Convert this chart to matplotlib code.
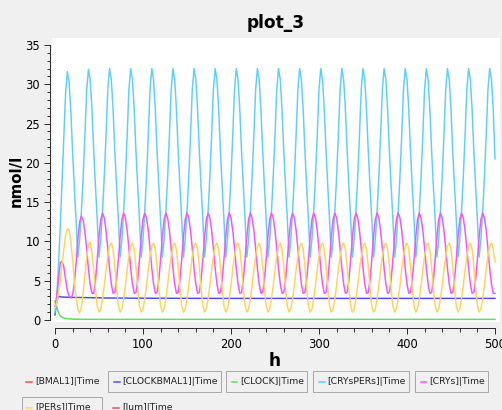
import numpy as np
import matplotlib
matplotlib.use("Agg")
import matplotlib.pyplot as plt
from matplotlib.patches import Rectangle
from matplotlib.lines import Line2D
from matplotlib.ticker import MultipleLocator

# ---------------- data ----------------
series_names = ["[BMAL1]|Time", "[CLOCKBMAL1]|Time", "[CLOCK]|Time",
                "[CRYsPERs]|Time", "[CRYs]|Time", "[PERs]|Time", "[lum]|Time"]

# common 2 h grid for the oscillating species
time_h = np.arange(0, 501, 2)

cryspers = [
    1.0, 3.0, 7.0, 12.0, 17.5, 23.0, 28.8, 31.6, 30.3, 26.6, 21.3, 16.8,
    12.6, 8.0, 10.3, 13.8, 18.2, 23.5, 29.2, 31.9, 30.5, 26.8, 21.5, 17.0,
    12.8, 8.0, 10.3, 13.8, 18.2, 23.5, 29.3, 32.0, 30.6, 26.8, 21.5, 17.0,
    12.8, 8.0, 10.3, 13.8, 18.2, 23.5, 29.3, 32.0, 30.6, 26.8, 21.5, 17.0,
    12.8, 8.0, 10.3, 13.8, 18.2, 23.5, 29.3, 32.0, 30.6, 26.8, 21.5, 17.0,
    12.8, 8.0, 10.3, 13.8, 18.2, 23.5, 29.3, 32.0, 30.6, 26.8, 21.5, 17.0,
    12.8, 8.0, 10.3, 13.8, 18.2, 23.5, 29.3, 32.0, 30.6, 26.8, 21.5, 17.0,
    12.8, 8.0, 10.3, 13.8, 18.2, 23.5, 29.3, 32.0, 30.6, 26.8, 21.5, 17.0,
    12.8, 8.0, 10.3, 13.8, 18.2, 23.5, 29.3, 32.0, 30.6, 26.8, 21.5, 17.0,
    12.8, 8.0, 10.3, 13.8, 18.2, 23.5, 29.3, 32.0, 30.6, 26.8, 21.5, 17.0,
    12.8, 8.0, 10.3, 13.8, 18.2, 23.5, 29.3, 32.0, 30.6, 26.8, 21.5, 17.0,
    12.8, 8.0, 10.3, 13.8, 18.2, 23.5, 29.3, 32.0, 30.6, 26.8, 21.5, 17.0,
    12.8, 8.0, 10.3, 13.8, 18.2, 23.5, 29.3, 32.0, 30.6, 26.8, 21.5, 17.0,
    12.8, 8.0, 10.3, 13.8, 18.2, 23.5, 29.3, 32.0, 30.6, 26.8, 21.5, 17.0,
    12.8, 8.0, 10.3, 13.8, 18.2, 23.5, 29.3, 32.0, 30.6, 26.8, 21.5, 17.0,
    12.8, 8.0, 10.3, 13.8, 18.2, 23.5, 29.3, 32.0, 30.6, 26.8, 21.5, 17.0,
    12.8, 8.0, 10.3, 13.8, 18.2, 23.5, 29.3, 32.0, 30.6, 26.8, 21.5, 17.0,
    12.8, 8.0, 10.3, 13.8, 18.2, 23.5, 29.3, 32.0, 30.6, 26.8, 21.5, 17.0,
    12.8, 8.0, 10.3, 13.8, 18.2, 23.5, 29.3, 32.0, 30.6, 26.8, 21.5, 17.0,
    12.8, 8.0, 10.3, 13.8, 18.2, 23.5, 29.3, 32.0, 30.6, 26.8, 21.5, 17.0,
    12.8, 8.0, 10.3, 13.8, 18.2, 23.5, 29.3, 32.0, 30.6, 26.8, 20.5,
]

crys = [
    1.7, 3.0, 5.2, 7.3, 7.5, 6.8, 5.2, 3.8, 3.0, 2.8, 3.2, 4.6,
    7.3, 10.3, 12.5, 13.2, 12.7, 11.2, 9.0, 6.5, 4.5, 3.4, 3.4, 5.0,
    7.7, 10.6, 12.8, 13.6, 13.0, 11.4, 9.1, 6.6, 4.6, 3.4, 3.5, 5.1,
    7.7, 10.6, 12.8, 13.6, 13.0, 11.4, 9.1, 6.6, 4.6, 3.4, 3.5, 5.1,
    7.7, 10.6, 12.8, 13.6, 13.0, 11.4, 9.1, 6.6, 4.6, 3.4, 3.5, 5.1,
    7.7, 10.6, 12.8, 13.6, 13.0, 11.4, 9.1, 6.6, 4.6, 3.4, 3.5, 5.1,
    7.7, 10.6, 12.8, 13.6, 13.0, 11.4, 9.1, 6.6, 4.6, 3.4, 3.5, 5.1,
    7.7, 10.6, 12.8, 13.6, 13.0, 11.4, 9.1, 6.6, 4.6, 3.4, 3.5, 5.1,
    7.7, 10.6, 12.8, 13.6, 13.0, 11.4, 9.1, 6.6, 4.6, 3.4, 3.5, 5.1,
    7.7, 10.6, 12.8, 13.6, 13.0, 11.4, 9.1, 6.6, 4.6, 3.4, 3.5, 5.1,
    7.7, 10.6, 12.8, 13.6, 13.0, 11.4, 9.1, 6.6, 4.6, 3.4, 3.5, 5.1,
    7.7, 10.6, 12.8, 13.6, 13.0, 11.4, 9.1, 6.6, 4.6, 3.4, 3.5, 5.1,
    7.7, 10.6, 12.8, 13.6, 13.0, 11.4, 9.1, 6.6, 4.6, 3.4, 3.5, 5.1,
    7.7, 10.6, 12.8, 13.6, 13.0, 11.4, 9.1, 6.6, 4.6, 3.4, 3.5, 5.1,
    7.7, 10.6, 12.8, 13.6, 13.0, 11.4, 9.1, 6.6, 4.6, 3.4, 3.5, 5.1,
    7.7, 10.6, 12.8, 13.6, 13.0, 11.4, 9.1, 6.6, 4.6, 3.4, 3.5, 5.1,
    7.7, 10.6, 12.8, 13.6, 13.0, 11.4, 9.1, 6.6, 4.6, 3.4, 3.5, 5.1,
    7.7, 10.6, 12.8, 13.6, 13.0, 11.4, 9.1, 6.6, 4.6, 3.4, 3.5, 5.1,
    7.7, 10.6, 12.8, 13.6, 13.0, 11.4, 9.1, 6.6, 4.6, 3.4, 3.5, 5.1,
    7.7, 10.6, 12.8, 13.6, 13.0, 11.4, 9.1, 6.6, 4.6, 3.4, 3.5, 5.1,
    7.7, 10.6, 12.8, 13.6, 13.0, 11.4, 9.1, 6.6, 4.6, 3.4, 3.4,
]

pers = [
    1.6, 2.2, 3.4, 5.0, 7.0, 9.0, 10.7, 11.6, 11.5, 10.0, 7.6, 5.0,
    2.8, 1.4, 0.9, 1.6, 3.4, 5.8, 8.0, 9.6, 9.9, 8.6, 6.4, 3.9,
    1.8, 1.0, 1.3, 2.7, 4.4, 6.4, 8.1, 9.4, 9.8, 9.0, 6.8, 4.0,
    1.8, 1.0, 1.4, 2.7, 4.4, 6.4, 8.1, 9.4, 9.8, 9.0, 6.8, 4.0,
    1.8, 1.0, 1.4, 2.7, 4.4, 6.4, 8.1, 9.4, 9.8, 9.0, 6.8, 4.0,
    1.8, 1.0, 1.4, 2.7, 4.4, 6.4, 8.1, 9.4, 9.8, 9.0, 6.8, 4.0,
    1.8, 1.0, 1.4, 2.7, 4.4, 6.4, 8.1, 9.4, 9.8, 9.0, 6.8, 4.0,
    1.8, 1.0, 1.4, 2.7, 4.4, 6.4, 8.1, 9.4, 9.8, 9.0, 6.8, 4.0,
    1.8, 1.0, 1.4, 2.7, 4.4, 6.4, 8.1, 9.4, 9.8, 9.0, 6.8, 4.0,
    1.8, 1.0, 1.4, 2.7, 4.4, 6.4, 8.1, 9.4, 9.8, 9.0, 6.8, 4.0,
    1.8, 1.0, 1.4, 2.7, 4.4, 6.4, 8.1, 9.4, 9.8, 9.0, 6.8, 4.0,
    1.8, 1.0, 1.4, 2.7, 4.4, 6.4, 8.1, 9.4, 9.8, 9.0, 6.8, 4.0,
    1.8, 1.0, 1.4, 2.7, 4.4, 6.4, 8.1, 9.4, 9.8, 9.0, 6.8, 4.0,
    1.8, 1.0, 1.4, 2.7, 4.4, 6.4, 8.1, 9.4, 9.8, 9.0, 6.8, 4.0,
    1.8, 1.0, 1.4, 2.7, 4.4, 6.4, 8.1, 9.4, 9.8, 9.0, 6.8, 4.0,
    1.8, 1.0, 1.4, 2.7, 4.4, 6.4, 8.1, 9.4, 9.8, 9.0, 6.8, 4.0,
    1.8, 1.0, 1.4, 2.7, 4.4, 6.4, 8.1, 9.4, 9.8, 9.0, 6.8, 4.0,
    1.8, 1.0, 1.4, 2.7, 4.4, 6.4, 8.1, 9.4, 9.8, 9.0, 6.8, 4.0,
    1.8, 1.0, 1.4, 2.7, 4.4, 6.4, 8.1, 9.4, 9.8, 9.0, 6.8, 4.0,
    1.8, 1.0, 1.4, 2.7, 4.4, 6.4, 8.1, 9.4, 9.8, 9.0, 6.8, 4.0,
    1.8, 1.0, 1.4, 2.7, 4.4, 6.4, 8.1, 9.4, 9.8, 9.0, 7.4,
]

# nearly constant species on their own sparse time grids
clockbmal1_t = [0, 1, 2, 3, 4, 5, 6, 8, 12, 20, 40, 60, 100, 200, 300, 400, 500]
clockbmal1 = [0.65, 1.5, 2.3, 2.8, 3.0, 3.0, 2.95, 2.92, 2.9, 2.88, 2.84, 2.8,
              2.77, 2.75, 2.75, 2.75, 2.75]

clock_t = [0, 1, 2, 3, 4, 5, 6, 8, 10, 12, 16, 20, 30, 60, 100, 500]
clock = [2.4, 2.1, 1.7, 1.3, 0.95, 0.7, 0.5, 0.35, 0.25, 0.2, 0.14, 0.11,
         0.09, 0.08, 0.08, 0.08]

bmal1_t, bmal1 = [], []
lum_t, lum = [], []

x_ticks = [0, 100, 200, 300, 400, 500]
y_ticks = [0, 5, 10, 15, 20, 25, 30, 35]

colors = ["#ff4a4a", "#4d4dff", "#5fe05f", "#5fd0f5", "#f555f5", "#ffd45c", "#ff4a4a"]

# ---------------- figure ----------------
W, H = 502, 410
fig = plt.figure(figsize=(W / 72, H / 72), dpi=72, facecolor="#f0f0f0")


def fx(px):
    return px / W


def fy(py):
    return 1 - py / H


ax = fig.add_axes([fx(52), fy(322), 448 / W, 284 / H])
ax.set_facecolor("white")
ax.set_xlim(-3.41, 505.7)
ax.set_ylim(-0.255, 35.89)

data = [(bmal1_t, bmal1), (clockbmal1_t, clockbmal1), (clock_t, clock),
        (time_h, cryspers), (time_h, crys), (time_h, pers), (lum_t, lum)]
for (tt, vv), c in zip(data, colors):
    ax.plot(tt, vv, color=c, lw=1.5, solid_joinstyle="round")

for s in ("top", "right"):
    ax.spines[s].set_visible(False)
ax.spines["left"].set_position(("outward", 2))
ax.spines["left"].set_bounds(0, 35)
ax.spines["bottom"].set_position(("outward", 6))
ax.spines["bottom"].set_bounds(0, 500)
for s in ("left", "bottom"):
    ax.spines[s].set_color("#303030")
    ax.spines[s].set_linewidth(1)

ax.set_xticks(x_ticks)
ax.set_yticks(y_ticks)
ax.xaxis.set_minor_locator(MultipleLocator(20))
ax.yaxis.set_minor_locator(MultipleLocator(1))
ax.tick_params(which="major", direction="out", length=6, width=1,
               color="#303030", labelsize=11.5, pad=4, labelcolor="black")
ax.tick_params(which="minor", direction="out", length=3.5, width=1,
               color="#303030")

# titles
fig.text(fx(276), fy(28), "plot_3", fontsize=17, weight="bold",
         ha="center", va="baseline")
fig.text(fx(16), fy(181), "nmol/l", fontsize=15, weight="bold",
         rotation=90, ha="center", va="center")
fig.text(fx(275), fy(366.5), "h", fontsize=17, weight="bold",
         ha="center", va="baseline")

# legend (Qwt-style item buttons)
legend_items = [
    # name index, dash x0, text x, row y, box (x0, x1) or None
    (0, 26, 35, 381.5, None),
    (1, 114, 122.7, 381.5, (108.3, 220.7)),
    (2, 231.5, 240, 381.5, (226, 306.7)),
    (3, 319, 327.7, 381.5, (313.3, 409.3)),
    (4, 420.5, 429.3, 381.5, (415, 488.3)),
    (5, 26, 35, 408, (21.7, 101.7)),
    (6, 113, 122.7, 408, None),
]
for idx, dx, tx, yc, box in legend_items:
    if box is not None:
        bx0, bx1 = box
        fig.patches.append(Rectangle((fx(bx0), fy(yc + 10.8)),
                                     (bx1 - bx0) / W, 21.6 / H,
                                     transform=fig.transFigure,
                                     facecolor="#f0f0f0", edgecolor="#a9a9a9",
                                     lw=1))
    fig.lines.append(Line2D([fx(dx), fx(dx + 5.5)], [fy(yc), fy(yc)],
                            transform=fig.transFigure, color=colors[idx], lw=1.5))
    fig.text(fx(tx), fy(yc), series_names[idx], fontsize=9.2,
             ha="left", va="center", color="#222222")

fig.savefig("out.png", dpi=72, facecolor=fig.get_facecolor())
